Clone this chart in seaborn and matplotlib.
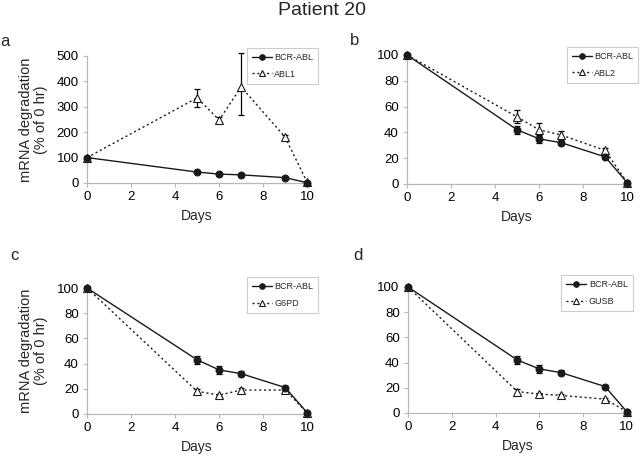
import matplotlib
matplotlib.use("Agg")
import matplotlib.pyplot as plt
import seaborn as sns
import numpy as np
import pandas as pd

sns.set_theme(style="white")
plt.rcParams['font.family'] = ['Liberation Sans', 'DejaVu Sans']

days = [0, 5, 6, 7, 9, 10]

# Panel a
bcr_a = [100, 43, 35, 32, 21, 1]
bcr_a_err = [2, 3, 3, 2, 1, 1]
abl1 = [100, 335, 248, 378, 180, 2]
abl1_err_lo = [5, 35, 10, 112, 10, 2]
abl1_err_hi = [5, 35, 10, 132, 10, 2]

# Panel b
bcr_b = [100, 42, 35, 32, 21, 1]
bcr_b_err = [1, 3, 3, 2, 1, 1]
abl2 = [100, 52, 42, 38, 26, 1]
abl2_err = [1, 5, 5, 3, 2, 1]

# Panel c
bcr_c = [100, 43, 35, 32, 21, 1]
bcr_c_err = [1, 3, 3, 2, 1, 1]
g6pd = [100, 18, 15, 19, 19, 1]
g6pd_err = [1, 2, 1, 2, 2, 1]

# Panel d
bcr_d = [100, 42, 35, 32, 21, 1]
bcr_d_err = [1, 3, 3, 2, 1, 1]
gusb = [100, 17, 15, 14, 11, 1]
gusb_err = [1, 2, 1, 1, 1, 1]

panels = [
    ("a", bcr_a, (bcr_a_err, bcr_a_err), "ABL1", abl1, (abl1_err_lo, abl1_err_hi), 500, [0, 100, 200, 300, 400, 500]),
    ("b", bcr_b, (bcr_b_err, bcr_b_err), "ABL2", abl2, (abl2_err, abl2_err), 100, [0, 20, 40, 60, 80, 100]),
    ("c", bcr_c, (bcr_c_err, bcr_c_err), "G6PD", g6pd, (g6pd_err, g6pd_err), 100, [0, 20, 40, 60, 80, 100]),
    ("d", bcr_d, (bcr_d_err, bcr_d_err), "GUSB", gusb, (gusb_err, gusb_err), 100, [0, 20, 40, 60, 80, 100]),
]

positions = {
    "a": [0.136, 0.5996, 0.344, 0.278],
    "b": [0.636, 0.5974, 0.344, 0.2823],
    "c": [0.136, 0.0941, 0.344, 0.2757],
    "d": [0.6375, 0.0963, 0.342, 0.2757],
}
letter_pos = {"a": (0.0, 0.91), "b": (0.547, 0.912), "c": (0.016, 0.442), "d": (0.552, 0.442)}
legend_bbox = {"a": (1.05, 1.063), "b": (1.05, 1.062), "c": (1.05, 1.087), "d": (1.027, 1.095)}

fig = plt.figure(figsize=(6.4, 4.57), dpi=100)
fig.text(0.503, 0.976, "Patient 20", ha="center", va="center", fontsize=14)

spine_col = "#b8b8b8"
for key, bcr, bcr_err, name2, ser2, ser2_err, ymax, yticks in panels:
    ax = fig.add_axes(positions[key])
    df1 = pd.DataFrame({"Days": days, "val": bcr})
    df2 = pd.DataFrame({"Days": days, "val": ser2})
    ax.errorbar(days, ser2, yerr=[ser2_err[0], ser2_err[1]], fmt="none", ecolor="black",
                elinewidth=0.9, capsize=2.5, capthick=0.9, zorder=2, clip_on=False)
    ax.errorbar(days, bcr, yerr=[bcr_err[0], bcr_err[1]], fmt="none", ecolor="black",
                elinewidth=0.9, capsize=2.5, capthick=0.9, zorder=2, clip_on=False)
    sns.lineplot(data=df1, x="Days", y="val", ax=ax, color="#1a1a1a", linewidth=1.0,
                 marker="o", markersize=5, markerfacecolor="#1a1a1a", markeredgecolor="#1a1a1a",
                 label="BCR-ABL", zorder=4, clip_on=False)
    sns.lineplot(data=df2, x="Days", y="val", ax=ax, color="#1a1a1a", linewidth=1.0,
                 linestyle=(0, (1.5, 2)), marker="^", markersize=5.5, markerfacecolor="white",
                 markeredgecolor="#1a1a1a", markeredgewidth=0.8,
                 label=name2, zorder=3, clip_on=False)
    ax.set_xlim(0, 10)
    ax.set_ylim(0, ymax)
    ax.set_xticks([0, 2, 4, 6, 8, 10])
    ax.set_yticks(yticks)
    ax.set_xlabel("Days", fontsize=10, labelpad=4)
    if key in ("a", "c"):
        ax.set_ylabel("mRNA degradation\n(% of 0 hr)", fontsize=10.5, labelpad=6, linespacing=1.1)
    else:
        ax.set_ylabel("")
    for s in ["top", "right"]:
        ax.spines[s].set_visible(False)
    for s in ["left", "bottom"]:
        ax.spines[s].set_color(spine_col)
        ax.spines[s].set_linewidth(0.9)
    ax.tick_params(axis="both", which="both", direction="out", length=3, width=0.8,
                   color=spine_col, labelsize=9.5, labelcolor="black", pad=3,
                   left=True, bottom=True)
    ax.set_facecolor("white")
    leg = ax.legend(loc="upper right", bbox_to_anchor=legend_bbox[key], fontsize=6.5,
                    frameon=True, fancybox=False, edgecolor="#cccccc", framealpha=1,
                    handlelength=2.2, handletextpad=0.3, borderpad=0.55, labelspacing=0.85,
                    borderaxespad=0, markerscale=0.8)
    leg.get_frame().set_linewidth(0.8)
    fig.text(*letter_pos[key], key, fontsize=12, ha="left", va="center")

fig.savefig("out.png", dpi=100)
